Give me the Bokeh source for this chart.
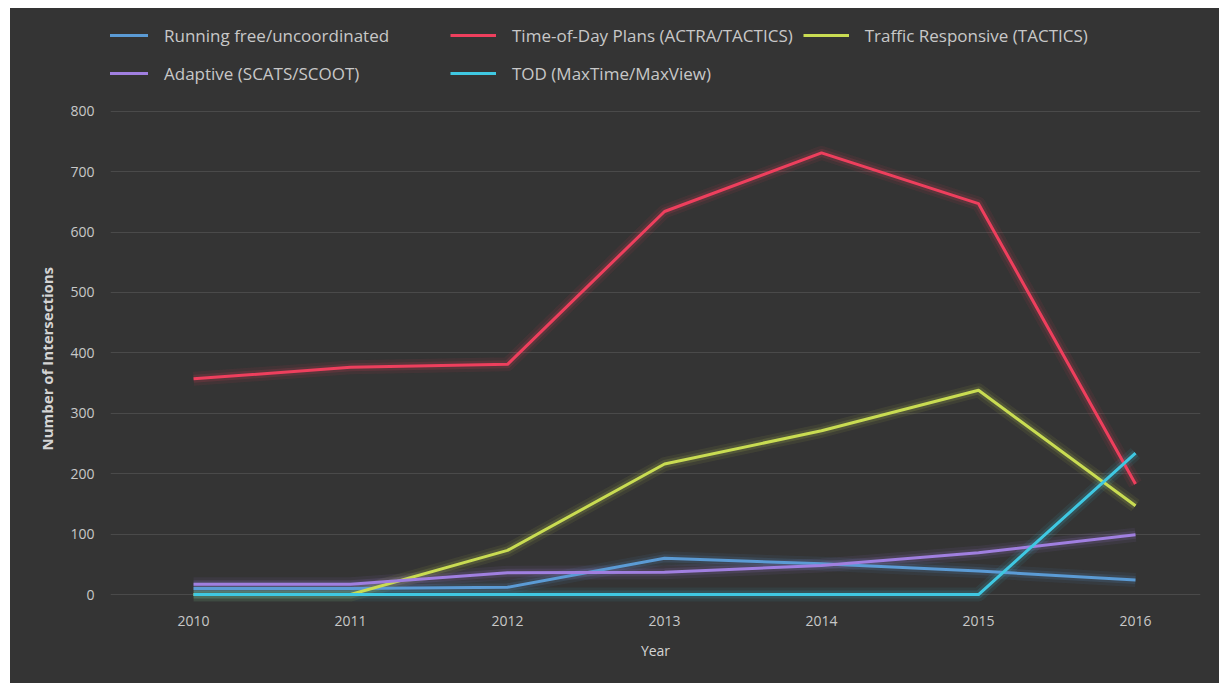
from bokeh.plotting import figure
from bokeh.models import Range1d, FixedTicker, Legend, LegendItem, Title
from bokeh.embed import file_html
from bokeh.resources import INLINE

# ---- data ----
years = [2010, 2011, 2012, 2013, 2014, 2015, 2016]
year_labels = ["2010", "2011", "2012", "2013", "2014", "2015", "2016"]
y_ticks = [0, 100, 200, 300, 400, 500, 600, 700, 800]

running_free = [10, 10, 12, 60, 51, 39, 24]
time_of_day = [357, 376, 381, 634, 731, 647, 183]
traffic_responsive = [0, 0, 73, 216, 271, 338, 147]
adaptive = [17, 17, 36, 37, 48, 69, 99]
tod_maxtime = [0, 0, 0, 0, 0, 0, 234]

series_names = [
    "Running free/uncoordinated",
    "Time-of-Day Plans (ACTRA/TACTICS)",
    "Traffic Responsive (TACTICS)",
    "Adaptive (SCATS/SCOOT)",
    "TOD (MaxTime/MaxView)",
]
series_values = [running_free, time_of_day, traffic_responsive, adaptive, tod_maxtime]
series_colors = ["#5b9bd5", "#ee3f5d", "#c9dc52", "#a07fe0", "#3fc8e2"]

BG = "#343434"
FONT = "Open Sans"
TXT = "#c8c8c8"

p = figure(
    width=1209, height=675,
    output_backend="svg", toolbar_location=None,
    x_range=Range1d(2009.471, 2016.414),
    y_range=Range1d(-16.5, 970),
    min_border_left=100, min_border_right=19,
    min_border_top=0, min_border_bottom=79,
    background_fill_color=BG, border_fill_color=BG,
    outline_line_color=None,
    margin=(8, 0, 0, 10),
)
p.styles = {"background-color": BG}
p.outline_line_color = None

# axes
p.xaxis.ticker = FixedTicker(ticks=years)
p.xaxis.major_label_overrides = {y: l for y, l in zip(years, year_labels)}
p.yaxis.ticker = FixedTicker(ticks=y_ticks)
for ax in (p.xaxis[0], p.yaxis[0]):
    ax.axis_line_color = None
    ax.major_tick_line_color = None
    ax.minor_tick_line_color = None
    ax.major_label_text_color = TXT
    ax.major_label_text_font = FONT
    ax.major_label_text_font_size = "14px"
p.yaxis.major_label_standoff = 10
p.xaxis.major_label_standoff = 5
p.xaxis.axis_label = "Year"
p.xaxis.axis_label_text_font = FONT
p.xaxis.axis_label_text_font_size = "14px"
p.xaxis.axis_label_text_font_style = "normal"
p.xaxis.axis_label_text_color = "#d4d4d4"
p.xaxis.axis_label_standoff = 12

p.add_layout(Title(text="Number of Intersections", align="left", offset=154,
                   text_font=FONT, text_font_size="15px", text_font_style="bold",
                   text_color="#d4d4d4", standoff=21), "left")

p.xgrid.grid_line_color = None
p.ygrid.grid_line_color = "#4a4a4a"
p.ygrid.grid_line_width = 1

# soft glow underlays
for vals, col in zip(series_values, series_colors):
    p.line(years, vals, line_color=col, line_width=14, line_alpha=0.08, line_join="round")
    p.line(years, vals, line_color=col, line_width=8, line_alpha=0.14, line_join="round")

items = []
for name, vals, col in zip(series_names, series_values, series_colors):
    r = p.line(years, vals, line_color=col, line_width=3, line_join="round")
    items.append(LegendItem(label=name, renderers=[r]))

legend = Legend(
    items=items, orientation="horizontal", ncols=3,
    location=(-8, 517),
    label_text_font=FONT, label_text_font_size="17px", label_text_color=TXT,
    glyph_width=46, glyph_height=28, label_height=28, label_width=276,
    label_standoff=16, spacing=10, padding=0, margin=0,
    background_fill_alpha=0, border_line_color=None,
)
p.add_layout(legend, "center")

open("out.html", "w").write(file_html(p, INLINE))
